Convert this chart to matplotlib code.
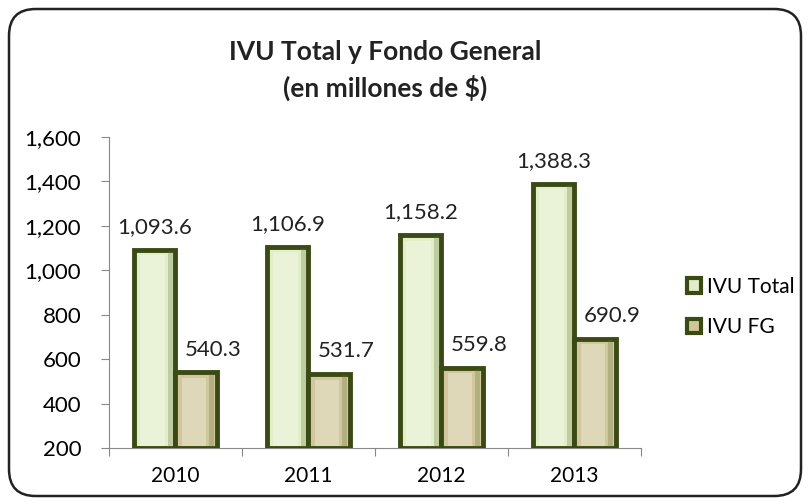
import numpy as np
import matplotlib.pyplot as plt
from matplotlib.patches import FancyBboxPatch, Rectangle
from matplotlib.ticker import FuncFormatter

plt.rcParams['font.family'] = ['Lato', 'DejaVu Sans']

years = ['2010', '2011', '2012', '2013']
ivu_total = [1093.6, 1106.9, 1158.2, 1388.3]
ivu_fg = [540.3, 531.7, 559.8, 690.9]
series_names = ['IVU Total', 'IVU FG']

face_total = '#e1eec8'
face_fg = '#d0c89c'
edge_col = '#3b4a14'

fig = plt.figure(figsize=(8.09, 5.04), dpi=100)
ax = fig.add_axes([0.1347, 0.1111, 0.6576, 0.617])

x = np.arange(len(years))
w = 0.31
b1 = ax.bar(x - w / 2, np.array(ivu_total) - 200, w, bottom=200, color=face_total,
            edgecolor=edge_col, linewidth=3.5, zorder=3)
b2 = ax.bar(x + w / 2, np.array(ivu_fg) - 200, w, bottom=200, color=face_fg,
            edgecolor=edge_col, linewidth=3.5, zorder=3)

# light inner highlight / darker right side to hint at the bevel look
for bars in (b1, b2):
    for r in bars:
        bx, bw = r.get_x(), r.get_width()
        top = r.get_y() + r.get_height()
        ax.add_patch(Rectangle((bx + bw * 0.15, 200 + 10), bw * 0.6, top - 200 - 34,
                               facecolor='white', alpha=0.3, linewidth=0, zorder=4))
        ax.add_patch(Rectangle((bx + bw * 0.82, 200 + 5), bw * 0.12, top - 200 - 10,
                               facecolor='#5a6a30', alpha=0.25, linewidth=0, zorder=4))

for xi, v in zip(x, ivu_total):
    ax.text(xi - w / 2, v + 58, f'{v:,.1f}', ha='center', va='bottom', fontsize=16, color='#222222')
for xi, v in zip(x, ivu_fg):
    ax.annotate(f'{v:,.1f}', (xi + w / 2, v + 58), xytext=(12, 0), textcoords='offset points',
                ha='center', va='bottom', fontsize=16, color='#222222')

ax.set_ylim(200, 1600)
ax.set_xlim(-0.5, len(years) - 0.5)
ax.set_yticks(np.arange(200, 1601, 200))
ax.yaxis.set_major_formatter(FuncFormatter(lambda v, p: f'{int(v):,}'))
ax.set_xticks(np.arange(-0.5, len(years), 1.0))
ax.set_xticklabels([])
ax.set_xticks(x, minor=True)
ax.set_xticklabels(years, minor=True)
ax.tick_params(axis='x', which='minor', length=0, pad=13, labelsize=15)
ax.tick_params(axis='x', which='major', length=6, color='#888888', direction='out')
ax.tick_params(axis='y', length=6, color='#888888', pad=14, labelsize=16)
for s in ('top', 'right'):
    ax.spines[s].set_visible(False)
for s in ('left', 'bottom'):
    ax.spines[s].set_color('#888888')

fig.text(385 / 809, 1 - 52 / 504, 'IVU Total y Fondo General', ha='center', va='center',
         fontsize=19, fontweight='bold', color='#222222')
fig.text(385 / 809, 1 - 88 / 504, '(en millones de $)', ha='center', va='center',
         fontsize=19, fontweight='bold', color='#222222')

handles = [Rectangle((0, 0), 1, 1, facecolor=face_total, edgecolor=edge_col, linewidth=3),
           Rectangle((0, 0), 1, 1, facecolor=face_fg, edgecolor=edge_col, linewidth=3)]
fig.legend(handles, series_names, loc='center left', bbox_to_anchor=(668 / 809, 1 - 307 / 504),
           frameon=False, fontsize=15, handlelength=0.7, handleheight=0.7, handletextpad=0.25,
           labelspacing=1.0)

border = FancyBboxPatch((9 / 809, 8 / 504), 792 / 809, 487 / 504,
                        boxstyle='round,pad=0,rounding_size=0.033', transform=fig.transFigure,
                        facecolor='none', edgecolor='#222222', linewidth=1.8,
                        mutation_aspect=809 / 504)
fig.patches.append(border)

fig.savefig('out.png', dpi=100)
